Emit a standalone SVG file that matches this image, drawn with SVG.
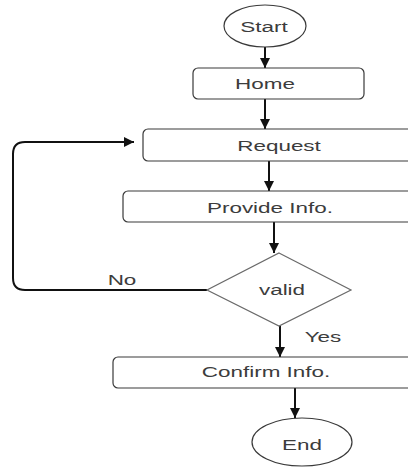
<svg xmlns="http://www.w3.org/2000/svg" width="408" height="468" viewBox="0 0 408 468">
  <style>
    .shape { fill: #ffffff; stroke: #3a3a3a; stroke-width: 1.2; }
    .diamond { fill: #ffffff; stroke: #6a6a6a; stroke-width: 1.2; }
    .edge { fill: none; stroke: #111111; stroke-width: 2; }
    .label { font-family: "Liberation Sans", Arial, sans-serif; font-size: 14.5px; fill: #3c3c3c; text-anchor: middle; }
  </style>
  <defs>
    <marker id="arrow" viewBox="0 0 10 10" refX="10" refY="5" markerWidth="5" markerHeight="5" orient="auto" markerUnits="strokeWidth">
      <path d="M0,0 L10,5 L0,10 Z" fill="#111111"/>
    </marker>
  </defs>
  <rect width="408" height="468" fill="#ffffff"/>

  <!-- connectors -->
  <g id="connectors">
    <path class="edge" d="M265,47 V68" marker-end="url(#arrow)"/>
    <path class="edge" d="M265,99 V129" marker-end="url(#arrow)"/>
    <path class="edge" d="M269,161 V191" marker-end="url(#arrow)"/>
    <path class="edge" d="M274,222 V253" marker-end="url(#arrow)"/>
    <path class="edge" d="M280,326 V357" marker-end="url(#arrow)"/>
    <path class="edge" d="M295,388 V418" marker-end="url(#arrow)"/>
    <path class="edge" d="M207,290 H25 Q13,290 13,278 V154 Q13,142 25,142 H134" marker-end="url(#arrow)"/>
    <text class="label" transform="translate(122,285) scale(1.55,1)">No</text>
    <text class="label" transform="translate(323,342) scale(1.55,1)">Yes</text>
  </g>

  <g id="start">
    <ellipse class="shape" cx="265" cy="26" rx="41" ry="21"/>
    <text class="label" transform="translate(264,32) scale(1.55,1)">Start</text>
  </g>

  <g id="home">
    <rect class="shape" x="193" y="68" width="171" height="31" rx="5"/>
    <text class="label" transform="translate(265,89) scale(1.55,1)">Home</text>
  </g>

  <g id="request">
    <rect class="shape" x="143" y="129" width="272" height="32" rx="5"/>
    <text class="label" transform="translate(279,151) scale(1.55,1)">Request</text>
  </g>

  <g id="provide-info">
    <rect class="shape" x="123" y="191" width="294" height="31" rx="5"/>
    <text class="label" transform="translate(270,213) scale(1.55,1)">Provide Info.</text>
  </g>

  <g id="valid">
    <polygon class="diamond" points="279,253 351,290 279,326 207,290"/>
    <text class="label" transform="translate(282,295) scale(1.55,1)">valid</text>
  </g>

  <g id="confirm-info">
    <rect class="shape" x="113" y="357" width="306" height="31" rx="5"/>
    <text class="label" transform="translate(266,377) scale(1.55,1)">Confirm Info.</text>
  </g>

  <g id="end">
    <ellipse class="shape" cx="302" cy="442" rx="50" ry="24"/>
    <text class="label" transform="translate(302,450) scale(1.55,1)">End</text>
  </g>
</svg>
